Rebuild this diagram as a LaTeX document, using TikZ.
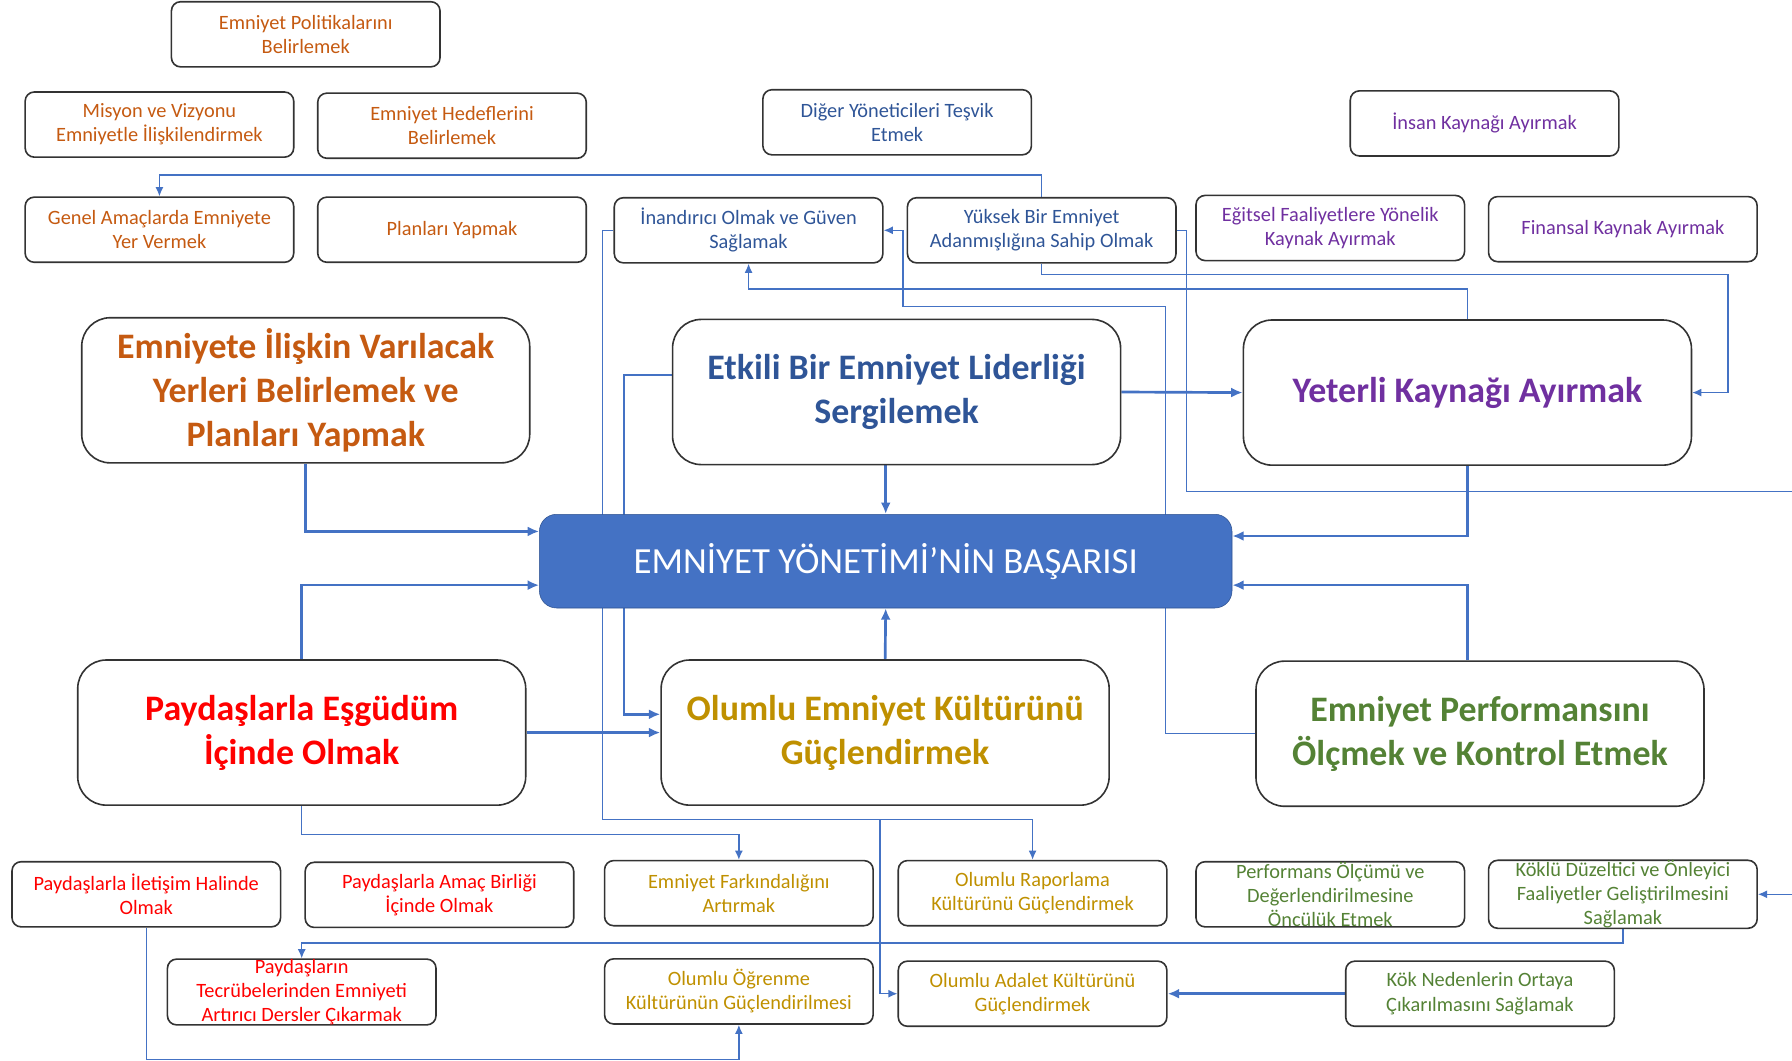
\documentclass[tikz,border=0pt]{standalone}
\usepackage{fontspec}
\setmainfont{Carlito}
\usepackage{tikz}
\definecolor{goalblue}{HTML}{4472C4}
\definecolor{goalline}{HTML}{2F528F}
\definecolor{planorange}{HTML}{C55A11}
\definecolor{leadblue}{HTML}{2F5597}
\definecolor{sourcepurple}{HTML}{7030A0}
\definecolor{partnerred}{HTML}{FF0000}
\definecolor{cultureyellow}{HTML}{BF9000}
\definecolor{measuregreen}{HTML}{548235}
\usetikzlibrary{positioning, arrows, arrows.meta, backgrounds}
\tikzstyle{arrow} = [->,>={Latex[length=3mm,width=2.6mm]},line width=2pt,draw=goalblue]

\begin{document}
\begin{tikzpicture}[x=0.3mm,y=-0.3mm]
                    \tikzstyle{every node}=[font=\fontsize{15.2}{18}\selectfont]
                    \tikzstyle{taskbox} = [rectangle, draw=black!80, line width=1.2pt, rounded corners=2.4mm, minimum width=70.5mm, minimum height=17.1mm, inner xsep=1pt, inner ysep=0pt, align=center]
                    \tikzstyle{mainbox} = [taskbox, rounded corners=7.5mm, minimum width=117.6mm, minimum height=38.1mm, font=\fontsize{26.8}{32.8}\selectfont\bfseries]
                    \tikzstyle{goalbox} = [rectangle, draw=goalline, fill=goalblue, text=white, rounded corners=4.5mm, minimum width=181.8mm, minimum height=24.6mm, font=\fontsize{27.5}{33}\selectfont]
                    \tikzstyle{thinarrow} = [->,>={Latex[length=2.4mm,width=2.1mm]},line width=1pt,draw=goalblue]

                    \useasboundingbox (0,0) rectangle (1568,928);

                    \node[taskbox, text=planorange](pol) at (267.5,30) {Emniyet Politikalarını\\Belirlemek};
                    \node[taskbox, text=planorange](mis) at (139.5,109) {Misyon  ve Vizyonu\\Emniyetle İlişkilendirmek};
                    \node[taskbox, text=planorange](hed) at (395.5,110) {Emniyet Hedeflerini\\Belirlemek};
                    \node[taskbox, text=leadblue](dig) at (785,107) {Diğer Yöneticileri Teşvik\\Etmek};
                    \node[taskbox, text=sourcepurple](ins) at (1299,108) {İnsan  Kaynağı  Ayırmak};
                    \node[taskbox, text=planorange](gen) at (139.5,201) {Genel Amaçlarda  Emniyete\\Yer Vermek};
                    \node[taskbox, text=planorange](pla) at (395.5,201) {Planları  Yapmak};
                    \node[taskbox, text=leadblue](ina) at (655,201.5) {İnandırıcı  Olmak ve Güven\\Sağlamak};
                    \node[taskbox, text=leadblue](yuk) at (911.5,201.5) {Yüksek Bir Emniyet\\Adanmışlığına  Sahip  Olmak};
                    \node[taskbox, text=sourcepurple](egi) at (1164,199.5) {Eğitsel Faaliyetlere Yönelik\\Kaynak  Ayırmak};
                    \node[taskbox, text=sourcepurple](fin) at (1420,200.5) {Finansal  Kaynak  Ayırmak};

                    \node[mainbox, text=planorange](iliski) at (267.5,341.5) {Emniyete İlişkin Varılacak\\Yerleri Belirlemek ve\\Planları Yapmak};
                    \node[mainbox, text=leadblue](etk) at (784.5,343) {Etkili Bir Emniyet Liderliği\\Sergilemek};
                    \node[mainbox, text=sourcepurple](yet) at (1284,343.5) {Yeterli Kaynağı Ayırmak};
                    \node[goalbox](bas) at (775,491) {EMNİYET YÖNETİMİ’NİN BAŞARISI};
                    \node[mainbox, text=partnerred](pay) at (264,641) {Paydaşlarla Eşgüdüm\\İçinde Olmak};
                    \node[mainbox, text=cultureyellow](olu) at (774.5,641) {Olumlu Emniyet Kültürünü\\Güçlendirmek};
                    \node[mainbox, text=measuregreen](per) at (1295,642) {Emniyet Performansını\\Ölçmek ve Kontrol Etmek};

                    \node[taskbox, text=partnerred](ilet) at (128,782.5) {Paydaşlarla  İletişim  Halinde\\Olmak};
                    \node[taskbox, text=partnerred](amac) at (384.5,783) {Paydaşlarla  Amaç  Birliği\\İçinde Olmak};
                    \node[taskbox, text=cultureyellow](fark) at (646.5,781.5) {Emniyet Farkındalığını\\Artırmak};
                    \node[taskbox, text=cultureyellow](rap) at (903.5,781.5) {Olumlu Raporlama\\Kültürünü Güçlendirmek};
                    \node[taskbox, text=measuregreen](olc) at (1164,782.5) {Performans Ölçümü ve\\Değerlendirilmesine\\Öncülük  Etmek};
                    \node[taskbox, text=measuregreen](kok) at (1420,782.5) {Köklü Düzeltici  ve Önleyici\\Faaliyetler  Geliştirilmesini\\Sağlamak};
                    \node[taskbox, text=partnerred](tec) at (264,868) {Paydaşların\\Tecrübelerinden Emniyeti\\Artırıcı Dersler Çıkarmak};
                    \node[taskbox, text=cultureyellow](ogr) at (646.5,867.5) {Olumlu Öğrenme\\Kültürünün Güçlendirilmesi};
                    \node[taskbox, text=cultureyellow](ada) at (903.5,869.5) {Olumlu Adalet Kültürünü\\Güçlendirmek};
                    \node[taskbox, text=measuregreen](ned) at (1295,869.5) {Kök Nedenlerin Ortaya\\Çıkarılmasını  Sağlamak};

                    \begin{scope}[on background layer]
                    \draw[arrow] (iliski.south) |- (bas.west |- 0,465);
                    \draw[arrow] (pay.north) |- (bas.west |- 0,512);
                    \draw[arrow] (pay.east) -- (olu.west);
                    \draw[arrow] (etk.west |- 0,328) -| (546,625) -- (olu.west |- 0,625);
                    \draw[arrow] (etk.south -| bas.north) -- (bas.north);
                    \draw[arrow] (olu.north) -- (bas.south);
                    \draw[arrow] (etk.east) -- (yet.west);
                    \draw[arrow] (yet.south) |- (bas.east |- 0,469);
                    \draw[arrow] (per.north -| yet.south) |- (bas.east |- 0,512);
                    \draw[arrow] (ned.west) -- (ada.east);

                    \draw[thinarrow] (yuk.north) |- (gen.north |- 0,153) -- (gen.north);
                    \draw[thinarrow] (yuk.south) |- (1512,240) |- (yet.east);
                    \draw[thinarrow] (yet.north) |- (ina.south |- 0,253) -- (ina.south);
                    \draw[thinarrow] (per.west) -| (1020,268) -| (790,201.5) -- (ina.east);
                    \draw[thinarrow] (yuk.east) -| (1038,430) -| (1580,782.5) -- (kok.east);
                    \draw[thinarrow] (ina.west) -| (527,717) -| (rap.north);
                    \draw[thinarrow] (770,717) |- (ada.west);
                    \draw[thinarrow] (pay.south) |- (fark.north |- 0,730) -- (fark.north);
                    \draw[thinarrow] (ilet.south) |- (ogr.south |- 0,927) -- (ogr.south);
                    \draw[thinarrow] (kok.south) |- (tec.north |- 0,825) -- (tec.north);
                    \end{scope}
            \end{tikzpicture}
\end{document}
